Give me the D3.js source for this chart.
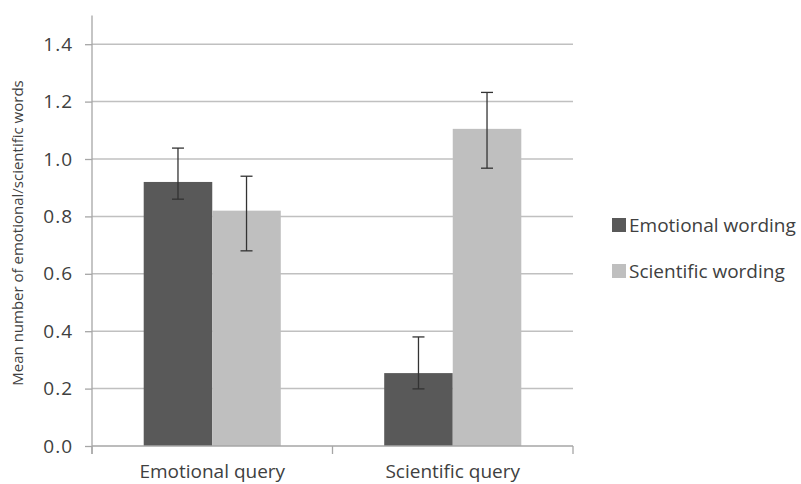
<!DOCTYPE html>
<html><head><meta charset="utf-8">
<script src="https://cdn.jsdelivr.net/npm/d3@7"></script>
<style>body{margin:0;background:#fff;} text{font-family:"Open Sans",sans-serif;fill:#404040;}</style>
</head><body>
<svg id="c" width="801" height="484"></svg>
<script>
const categories = ["Emotional query", "Scientific query"];
const seriesNames = ["Emotional wording", "Scientific wording"];
const emotionalWording = [0.92, 0.254];
const scientificWording = [0.82, 1.105];
const emotionalLow = [0.86, 0.199];
const emotionalHigh = [1.038, 0.38];
const scientificLow = [0.68, 0.968];
const scientificHigh = [0.94, 1.232];
const yTicks = [0, 0.2, 0.4, 0.6, 0.8, 1.0, 1.2, 1.4];
const colors = ["#595959", "#bfbfbf"];

const svg = d3.select("#c");
const mLeft = 92, mRight = 573, mTop = 15.5, mBottom = 446;
const y = d3.scaleLinear().domain([0, 1.5]).range([mBottom, mTop]);
const x0 = d3.scaleBand().domain(categories).range([mLeft, mRight]).paddingInner(0.43).paddingOuter(0.215);
const x1 = d3.scaleBand().domain(seriesNames).range([0, x0.bandwidth()]);

// gridlines
svg.append("g").selectAll("line").data(yTicks.filter(d => d > 0)).join("line")
  .attr("x1", mLeft).attr("x2", mRight)
  .attr("y1", d => y(d)).attr("y2", d => y(d))
  .attr("stroke", "#c0c0c0").attr("stroke-width", 1.5);

const rows = categories.map((c, i) => [
  {cat: c, s: seriesNames[0], v: emotionalWording[i], lo: emotionalLow[i], hi: emotionalHigh[i], col: colors[0]},
  {cat: c, s: seriesNames[1], v: scientificWording[i], lo: scientificLow[i], hi: scientificHigh[i], col: colors[1]}
]).flat();

svg.append("g").selectAll("rect").data(rows).join("rect")
  .attr("x", d => x0(d.cat) + x1(d.s))
  .attr("width", x1.bandwidth())
  .attr("y", d => y(d.v))
  .attr("height", d => y(0) - y(d.v))
  .attr("fill", d => d.col);

// error bars
const eb = svg.append("g").attr("stroke", "#333").attr("stroke-width", 1.3);
rows.forEach(d => {
  const cx = x0(d.cat) + x1(d.s) + x1.bandwidth() / 2;
  eb.append("line").attr("x1", cx).attr("x2", cx).attr("y1", y(d.lo)).attr("y2", y(d.hi));
  eb.append("line").attr("x1", cx - 6).attr("x2", cx + 6).attr("y1", y(d.lo)).attr("y2", y(d.lo));
  eb.append("line").attr("x1", cx - 6).attr("x2", cx + 6).attr("y1", y(d.hi)).attr("y2", y(d.hi));
});

// y axis
const yAxis = d3.axisLeft(y).tickValues(yTicks).tickFormat(d3.format(".1f")).tickSize(7).tickPadding(12);
const ya = svg.append("g").attr("transform", `translate(${mLeft},0)`).call(yAxis);
ya.select(".domain").remove();
ya.selectAll(".tick line").attr("stroke", "#a6a6a6").attr("stroke-width", 1.3);
ya.selectAll(".tick text").style("font-size", "19px").style("letter-spacing", "1px")
  .attr("fill", "#404040").attr("font-family", "'Open Sans',sans-serif");
svg.append("line").attr("x1", mLeft).attr("x2", mLeft).attr("y1", y(1.5)).attr("y2", mBottom + 8)
  .attr("stroke", "#a6a6a6").attr("stroke-width", 1.3);

// x axis
svg.append("line").attr("x1", mLeft).attr("x2", mRight).attr("y1", mBottom).attr("y2", mBottom)
  .attr("stroke", "#a6a6a6").attr("stroke-width", 1.3);
const bounds = [mLeft, (x0(categories[0]) + x0.bandwidth() + x0(categories[1])) / 2, mRight];
svg.append("g").selectAll("line").data(bounds).join("line")
  .attr("x1", d => d).attr("x2", d => d).attr("y1", mBottom).attr("y2", mBottom + 8)
  .attr("stroke", "#a6a6a6").attr("stroke-width", 1.3);
svg.append("g").selectAll("text").data(categories).join("text")
  .attr("x", d => x0(d) + x0.bandwidth() / 2).attr("y", 478)
  .attr("text-anchor", "middle").style("font-size", "19px").text(d => d);

// y title
svg.append("text").attr("transform", "translate(23,233) rotate(-90)")
  .attr("text-anchor", "middle").style("font-size", "15px")
  .text("Mean number of emotional/scientific words");

// legend
const lg = svg.append("g").selectAll("g").data(seriesNames).join("g")
  .attr("transform", (d, i) => `translate(612,${218 + i * 46})`);
lg.append("rect").attr("width", 14).attr("height", 14).attr("fill", (d, i) => colors[i]);
lg.append("text").attr("x", 17).attr("y", 14).style("font-size", "19px").text(d => d);
</script>
</body></html>
